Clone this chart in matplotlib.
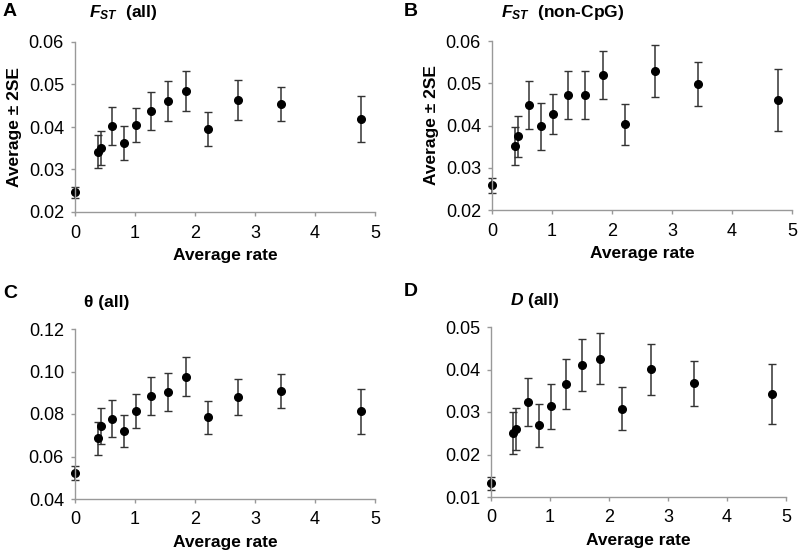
import numpy as np
import matplotlib.pyplot as plt

plt.rcParams['font.family'] = ['Liberation Sans', 'DejaVu Sans']
plt.rcParams['mathtext.fontset'] = 'custom'
plt.rcParams['mathtext.it'] = 'Liberation Sans:italic:bold'
plt.rcParams['mathtext.rm'] = 'Liberation Sans:bold'

# Data
rate = [0.0, 0.38, 0.43, 0.62, 0.82, 1.02, 1.27, 1.55, 1.85, 2.22, 2.72, 3.44, 4.77]

fst_all = [0.0246, 0.0342, 0.0350, 0.0402, 0.0363, 0.0404, 0.0437, 0.0462, 0.0485,
           0.0396, 0.0464, 0.0454, 0.0419]
fst_all_err = [0.0014, 0.0038, 0.0040, 0.0044, 0.0040, 0.0040, 0.0045, 0.0047, 0.0047,
               0.0040, 0.0047, 0.0041, 0.0055]

fst_noncpg = [0.0258, 0.0352, 0.0374, 0.0448, 0.0398, 0.0427, 0.0472, 0.0472, 0.0520,
              0.0403, 0.0529, 0.0498, 0.0460]
fst_noncpg_err = [0.0017, 0.0045, 0.0048, 0.0057, 0.0055, 0.0048, 0.0056, 0.0056, 0.0057,
                  0.0048, 0.0061, 0.0053, 0.0074]

theta_all = [0.0523, 0.0685, 0.0743, 0.0778, 0.0721, 0.0814, 0.0885, 0.0902, 0.0976,
             0.0784, 0.0880, 0.0906, 0.0813]
theta_all_err = [0.0032, 0.0079, 0.0085, 0.0086, 0.0076, 0.0080, 0.0091, 0.0089, 0.0092,
                 0.0078, 0.0085, 0.0080, 0.0107]

d_all = [0.0132, 0.0250, 0.0260, 0.0324, 0.0269, 0.0313, 0.0365, 0.0410, 0.0425,
         0.0308, 0.0401, 0.0368, 0.0342]
d_all_err = [0.0016, 0.0049, 0.0050, 0.0056, 0.0051, 0.0052, 0.0059, 0.0061, 0.0060,
             0.0050, 0.0060, 0.0053, 0.0070]

W, H = 800, 554
fig = plt.figure(figsize=(8, 5.54), dpi=100)


def px_axes(left, right, top, bottom):
    return fig.add_axes([left / W, 1 - bottom / H, (right - left) / W, (bottom - top) / H])


panels = [
    dict(box=(75, 375, 42, 212), y=fst_all, err=fst_all_err, ylim=(0.02, 0.06),
         yticks=np.arange(0.02, 0.061, 0.01), ylabel=True),
    dict(box=(492, 792, 41, 210), y=fst_noncpg, err=fst_noncpg_err, ylim=(0.02, 0.06),
         yticks=np.arange(0.02, 0.061, 0.01), ylabel=True),
    dict(box=(75, 375, 329, 499), y=theta_all, err=theta_all_err, ylim=(0.04, 0.12),
         yticks=np.arange(0.04, 0.121, 0.02), ylabel=False),
    dict(box=(491, 786, 327, 497), y=d_all, err=d_all_err, ylim=(0.01, 0.05),
         yticks=np.arange(0.01, 0.051, 0.01), ylabel=False),
]

for p in panels:
    ax = px_axes(*p['box'])
    ax.errorbar(rate, p['y'], yerr=p['err'], fmt='o', color='black', ecolor='#333333',
                elinewidth=1.1, capsize=3, capthick=1.0, markersize=5.5, clip_on=False)
    ax.set_xlim(0, 5)
    ax.set_ylim(*p['ylim'])
    ax.set_xticks(range(6))
    ax.set_yticks(p['yticks'])
    ax.set_yticklabels([f"{v:.2f}" for v in p['yticks']])
    for s in ['top', 'right']:
        ax.spines[s].set_visible(False)
    for s in ['left', 'bottom']:
        ax.spines[s].set_color('#999999')
        ax.spines[s].set_linewidth(1.0)
    ax.tick_params(axis='both', direction='out', length=3, width=1, color='#999999',
                   labelsize=13)
    ax.tick_params(axis='x', pad=6)
    ax.tick_params(axis='y', pad=5)
    ax.set_xlabel('Average rate', fontsize=12.5, fontweight='bold', labelpad=5)
    if p['ylabel']:
        ax.set_ylabel('Average ± 2SE', fontsize=12.5, fontweight='bold', labelpad=5)

# Panel letters and titles
letters = [('A', 3, 12), ('B', 404, 12), ('C', 3, 293), ('D', 404, 291)]
for t, x, y in letters:
    fig.text(x / W, 1 - y / H, t, fontsize=14, fontweight='bold', va='center', ha='left')

titles = [(r'$F_{ST}$  (all)', 89, 13), (r'$F_{ST}$  (non-CpG)', 501, 12),
          ('θ (all)', 84, 302), (r'$D$ (all)', 510, 300)]
for t, x, y in titles:
    fig.text(x / W, 1 - y / H, t, fontsize=12.5, fontweight='bold', va='center', ha='left')

fig.savefig('out.png', dpi=100)
